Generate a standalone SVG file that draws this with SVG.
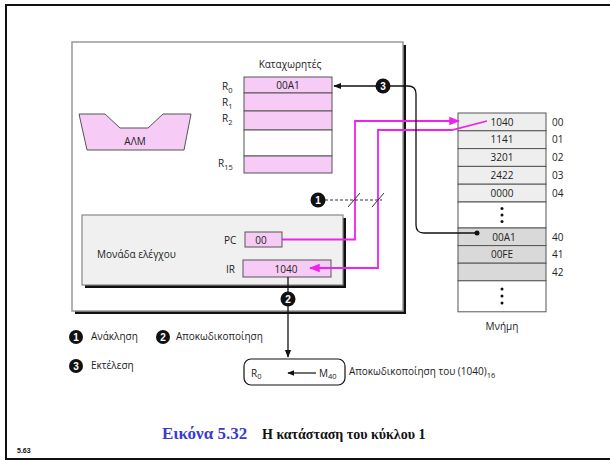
<svg xmlns="http://www.w3.org/2000/svg" width="610" height="461" viewBox="0 0 610 461">
  <style>
    .t { font-family: "Open Sans", "Noto Sans", "DejaVu Sans", sans-serif; font-size: 10px; fill: #222; }
    .c { text-anchor: middle; }
    .sub { font-size: 7.5px; }
    .pink { fill: #f6ccf6; stroke: #555; stroke-width: 1; }
    .cell { fill: #eeeeee; stroke: #555; stroke-width: 1; }
    .cell2 { fill: #d9d9d9; stroke: #555; stroke-width: 1; }
    .blank { fill: #ffffff; stroke: #555; stroke-width: 1; }
    .mag { fill: none; stroke: #ee22ee; stroke-width: 1.8; }
    .blk { fill: none; stroke: #111; stroke-width: 1.3; }
    .badge circle { fill: #111; }
    .badge text { font-family: "Liberation Sans", Arial, sans-serif; font-weight: bold; font-size: 10px; fill: #fff; text-anchor: middle; }
    .dot { fill: #111; }
  </style>
  <defs>
    <marker id="ah-mag" viewBox="0 0 10 10" refX="9" refY="5" markerWidth="6" markerHeight="6" orient="auto">
      <path d="M0,1 L10,5 L0,9 z" fill="#ee22ee"/>
    </marker>
    <marker id="ah-blk" viewBox="0 0 10 10" refX="9" refY="5" markerWidth="6" markerHeight="6" orient="auto">
      <path d="M0,1 L10,5 L0,9 z" fill="#111"/>
    </marker>
  </defs>

  <rect width="610" height="461" fill="#fff"/>
  <!-- slide frame -->
  <rect x="6" y="5" width="620" height="454" fill="none" stroke="#111" stroke-width="2"/>

  <!-- CPU enclosure with shadow -->
  <g id="cpu">
    <rect x="75" y="45" width="331" height="269" fill="#111"/>
    <rect x="72" y="42" width="331" height="269" fill="#fff" stroke="#999" stroke-width="1.5"/>
  </g>

  <!-- ALU -->
  <g id="alu">
    <path d="M79,114 L105,114 L120,128 L148,128 L163,114 L191,114 L184,150 L87,150 Z" fill="#f6ccf6" stroke="#555" stroke-width="1"/>
    <text class="t c" x="135" y="145" font-size="11">ΑΛΜ</text>
  </g>

  <!-- register file -->
  <g id="registers">
    <text class="t c" x="290" y="68" font-size="10.5">Καταχωρητές</text>
    <rect class="pink" x="244" y="77" width="88" height="16"/>
    <rect class="pink" x="244" y="93" width="88" height="18"/>
    <rect class="pink" x="244" y="111" width="88" height="19"/>
    <rect class="blank" x="244" y="130" width="88" height="26"/>
    <rect class="pink" x="244" y="156" width="88" height="17"/>
    <text class="t c" x="288" y="89" font-size="9.5">00A1</text>
    <text class="t" x="222" y="90" font-size="9">R<tspan class="sub" dy="3">0</tspan></text>
    <text class="t" x="222" y="106" font-size="9">R<tspan class="sub" dy="3">1</tspan></text>
    <text class="t" x="222" y="122" font-size="9">R<tspan class="sub" dy="3">2</tspan></text>
    <text class="t" x="218" y="167" font-size="9">R<tspan class="sub" dy="3">15</tspan></text>
  </g>

  <!-- control unit -->
  <g id="control-unit">
    <rect x="85" y="218" width="261" height="70" fill="#111"/>
    <rect x="82" y="215" width="261" height="70" fill="#f0f0f0" stroke="#888" stroke-width="1.2"/>
    <text class="t" x="97" y="258" font-size="12">Μονάδα ελέγχου</text>
    <text class="t" x="224" y="244" font-size="11">PC</text>
    <rect class="pink" x="245" y="232" width="37" height="15"/>
    <text class="t c" x="261" y="243.5" font-size="9.5">00</text>
    <text class="t" x="226" y="273" font-size="11">IR</text>
    <rect class="pink" x="243" y="260" width="88" height="17"/>
    <text class="t c" x="286" y="272.5" font-size="9.5">1040</text>
  </g>

  <!-- main memory -->
  <g id="memory">
    <rect class="cell" x="458" y="113" width="88" height="17.8"/>
    <rect class="cell" x="458" y="130.8" width="88" height="17.8"/>
    <rect class="cell" x="458" y="148.6" width="88" height="17.8"/>
    <rect class="cell" x="458" y="166.4" width="88" height="17.8"/>
    <rect class="cell" x="458" y="184.2" width="88" height="17.8"/>
    <rect class="blank" x="458" y="202" width="88" height="26"/>
    <rect class="cell2" x="458" y="228" width="88" height="17.6"/>
    <rect class="cell2" x="458" y="245.6" width="88" height="17.6"/>
    <rect class="cell2" x="458" y="263.2" width="88" height="17.6"/>
    <rect class="blank" x="458" y="280.8" width="88" height="31"/>
    <text class="t c" x="502" y="125.5" font-size="9.5">1040</text>
    <text class="t c" x="502" y="143.3" font-size="9.5">1141</text>
    <text class="t c" x="502" y="161.1" font-size="9.5">3201</text>
    <text class="t c" x="502" y="178.9" font-size="9.5">2422</text>
    <text class="t c" x="502" y="196.7" font-size="9.5">0000</text>
    <text class="t c" x="504" y="240.5" font-size="9.5">00A1</text>
    <text class="t c" x="502" y="258" font-size="9.5">00FE</text>
    <circle class="dot" cx="502" cy="208.5" r="1.5"/>
    <circle class="dot" cx="502" cy="215" r="1.5"/>
    <circle class="dot" cx="502" cy="221.5" r="1.5"/>
    <circle class="dot" cx="502" cy="289" r="1.5"/>
    <circle class="dot" cx="502" cy="296" r="1.5"/>
    <circle class="dot" cx="502" cy="303" r="1.5"/>
    <text class="t" x="552" y="125.5" font-size="9.5">00</text>
    <text class="t" x="552" y="143.3" font-size="9.5">01</text>
    <text class="t" x="552" y="161.1" font-size="9.5">02</text>
    <text class="t" x="552" y="178.9" font-size="9.5">03</text>
    <text class="t" x="552" y="196.7" font-size="9.5">04</text>
    <text class="t" x="552" y="240.5" font-size="9.5">40</text>
    <text class="t" x="552" y="258" font-size="9.5">41</text>
    <text class="t" x="552" y="275.5" font-size="9.5">42</text>
    <text class="t c" x="502" y="330" font-size="11">Μνήμη</text>
  </g>

  <!-- decoded operation -->
  <g id="decoded">
    <rect x="244" y="359" width="101" height="26" rx="7" fill="#fff" stroke="#111" stroke-width="1.2"/>
    <text class="t" x="251" y="377" font-size="8.5">R<tspan class="sub" dy="2">0</tspan></text>
    <text class="t" x="319" y="377" font-size="8.5">M<tspan class="sub" dy="2">40</tspan></text>
    <line x1="316" y1="373" x2="288" y2="373" stroke="#111" stroke-width="1.2" marker-end="url(#ah-blk)"/>
    <text class="t" x="349" y="375" font-size="8.5">Αποκωδικοποίηση του (1040)<tspan class="sub" dy="3">16</tspan></text>
  </g>

  <g id="connectors">
    <!-- fetch: PC to memory address 00 -->
    <path class="mag" d="M282,239.5 L355,239.5 L355,121 L459,121" marker-end="url(#ah-mag)"/>
    <!-- fetch: memory word into IR -->
    <path class="mag" d="M487,121 L452,130 L378,130 L378,268 L310,268" marker-end="url(#ah-mag)"/>
    <!-- fetch marker with bus slashes -->
    <line x1="325" y1="200" x2="382" y2="200" stroke="#333" stroke-width="1" stroke-dasharray="3,2"/>
    <line x1="348" y1="207" x2="360" y2="193" stroke="#333" stroke-width="1"/>
    <line x1="372" y1="207" x2="384" y2="193" stroke="#333" stroke-width="1"/>
    <!-- decode: IR to decoded operation -->
    <path class="blk" d="M288,277 L288,357" marker-end="url(#ah-blk)"/>
    <!-- execute: memory 40 into R0 -->
    <path class="blk" d="M477,233 L424,233 Q416,233 416,225 L416,94 Q416,86 408,86 L334,86" marker-end="url(#ah-blk)"/>
    <circle class="dot" cx="477" cy="233" r="2.5"/>
  </g>

  <!-- step badges -->
  <g id="badges">
    <g class="badge"><circle cx="318" cy="200" r="7.5"/><text x="318" y="203.5">1</text></g>
    <g class="badge"><circle cx="288" cy="299" r="7.5"/><text x="288" y="302.5">2</text></g>
    <g class="badge"><circle cx="383" cy="86" r="7.5"/><text x="383" y="89.5">3</text></g>
  </g>

  <!-- legend -->
  <g id="legend">
    <g class="badge"><circle cx="76" cy="337" r="7"/><text x="76" y="340.5">1</text></g>
    <text class="t" x="91" y="340" font-size="10">Ανάκληση</text>
    <g class="badge"><circle cx="163" cy="337" r="7"/><text x="163" y="340.5">2</text></g>
    <text class="t" x="176" y="340" font-size="10">Αποκωδικοποίηση</text>
    <g class="badge"><circle cx="76" cy="366" r="7"/><text x="76" y="369.5">3</text></g>
    <text class="t" x="91" y="369" font-size="10">Εκτέλεση</text>
  </g>

  <!-- caption -->
  <g id="caption">
    <text x="162" y="439" font-family="'Liberation Serif', 'Times New Roman', serif" font-size="17" font-weight="bold" fill="#3b3bd0">Εικόνα 5.32</text>
    <text x="262" y="439" font-family="'Liberation Serif', 'Times New Roman', serif" font-size="14" font-weight="bold" fill="#111">Η κατάσταση του κύκλου 1</text>
    <text x="17" y="453" font-family="'Liberation Sans', Arial, sans-serif" font-size="7" font-weight="bold" fill="#111">5.63</text>
  </g>
</svg>
